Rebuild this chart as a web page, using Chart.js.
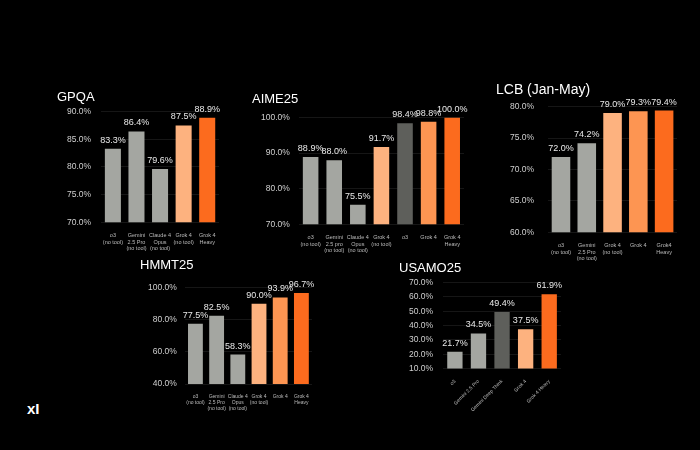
<!DOCTYPE html>
<html><head><meta charset="utf-8">
<script src="https://cdn.jsdelivr.net/npm/chart.js@4"></script>
<style>
html,body{margin:0;padding:0;background:#000;width:700px;height:450px;overflow:hidden;font-family:Arial,"Liberation Sans",sans-serif}
.c{position:absolute}
#logo{position:absolute;left:27px;top:400px;color:#fff;font-size:15px;font-weight:bold}
</style></head><body>
<div class="c" style="left:57px;top:86px;width:166px;height:168px"><canvas id="gpqa"></canvas></div>
<div class="c" style="left:252px;top:88px;width:216px;height:168px"><canvas id="aime"></canvas></div>
<div class="c" style="left:496px;top:78px;width:185px;height:186px"><canvas id="lcb"></canvas></div>
<div class="c" style="left:140px;top:252px;width:176px;height:162px"><canvas id="hmmt"></canvas></div>
<div class="c" style="left:399px;top:255px;width:166px;height:160px"><canvas id="usamo"></canvas></div>
<div id="logo">xI</div>
<script>
const GRAY='#a4a6a1', DARK='#5e5f5b', LO='#fdb27f', MO='#fd9552', DO='#fc6b1e';

const gpqaLabels=[['o3','(no tool)'],['Gemini','2.5 Pro','(no tool)'],['Claude 4','Opus','(no tool)'],['Grok 4','(no tool)'],['Grok 4','Heavy']];
const gpqaValues=[83.3,86.4,79.6,87.5,88.9];
const gpqaColors=[GRAY,GRAY,GRAY,LO,DO];

const aimeLabels=[['o3','(no tool)'],['Gemini','2.5 pro','(no tool)'],['Claude 4','Opus','(no tool)'],['Grok 4','(no tool)'],['o3'],['Grok 4'],['Grok 4','Heavy']];
const aimeValues=[88.9,88.0,75.5,91.7,98.4,98.8,100.0];
const aimeColors=[GRAY,GRAY,GRAY,LO,DARK,MO,DO];

const lcbLabels=[['o3','(no tool)'],['Gemini','2.5 Pro','(no tool)'],['Grok 4','(no tool)'],['Grok 4'],['Grok4','Heavy']];
const lcbValues=[72.0,74.2,79.0,79.3,79.4];
const lcbColors=[GRAY,GRAY,LO,MO,DO];

const hmmtLabels=[['o3','(no tool)'],['Gemini','2.5 Pro','(no tool)'],['Claude 4','Opus','(no tool)'],['Grok 4','(no tool)'],['Grok 4'],['Grok 4','Heavy']];
const hmmtValues=[77.5,82.5,58.3,90.0,93.9,96.7];
const hmmtColors=[GRAY,GRAY,GRAY,LO,MO,DO];

const usamoLabels=['o3','Gemini 2.5 Pro','Gemini Deep Think','Grok 4','Grok 4 Heavy'];
const usamoValues=[21.7,34.5,49.4,37.5,61.9];
const usamoColors=[GRAY,GRAY,DARK,LO,DO];

const valueLabels={id:'vl',afterDatasetsDraw(ch){
  const c=ch.ctx, m=ch.getDatasetMeta(0);
  c.save();c.fillStyle='#e8e8e8';c.font='9px Arial';c.textAlign='center';c.textBaseline='bottom';
  m.data.forEach((b,i)=>c.fillText(ch.data.datasets[0].data[i].toFixed(1)+'%',b.x,b.y-4));
  c.restore();}};

function make(id,title,labels,values,colors,min,max,step,opt={}){
  new Chart(document.getElementById(id),{type:'bar',
    data:{labels,datasets:[{data:values,backgroundColor:colors,barPercentage:opt.bp||0.68,categoryPercentage:1}]},
    options:{responsive:true,maintainAspectRatio:false,animation:false,
      layout:{padding:{top:opt.pt||8,right:4}},
      plugins:{legend:{display:false},tooltip:{enabled:false},
        title:{display:true,text:title,align:'start',color:'#fff',font:{size:opt.ts||13,weight:'normal',family:'Arial'},padding:{bottom:opt.tb||6}}},
      scales:{
        x:{grid:{display:false},border:{display:false},
          ticks:{color:'#bbb',font:{size:opt.xs||5.5},padding:2,autoSkip:false,maxRotation:opt.rot||0,minRotation:opt.rot||0}},
        y:{min,max,grid:{color:'#161616',drawTicks:false},border:{display:false},
          ticks:{stepSize:step,color:'#cfcfcf',font:{size:8.5},padding:opt.yp||12,callback:v=>v.toFixed(1)+'%'}}}}},
    );
}
Chart.register(valueLabels);
make('gpqa','GPQA',gpqaLabels,gpqaValues,gpqaColors,70,90,5,{pt:4,yp:10});
make('aime','AIME25',aimeLabels,aimeValues,aimeColors,70,100,10,{pt:4,tb:10,yp:9,bp:0.66});
make('lcb','LCB (Jan-May)',lcbLabels,lcbValues,lcbColors,60,80,5,{pt:4,ts:14,bp:0.72,tb:8,yp:14});
make('hmmt','HMMT25',hmmtLabels,hmmtValues,hmmtColors,40,100,20,{pt:6,bp:0.7,tb:14,yp:8,xs:5});
make('usamo','USAMO25',usamoLabels,usamoValues,usamoColors,10,70,10,{pt:6,rot:45,xs:5,bp:0.65,yp:10});
</script></body></html>
